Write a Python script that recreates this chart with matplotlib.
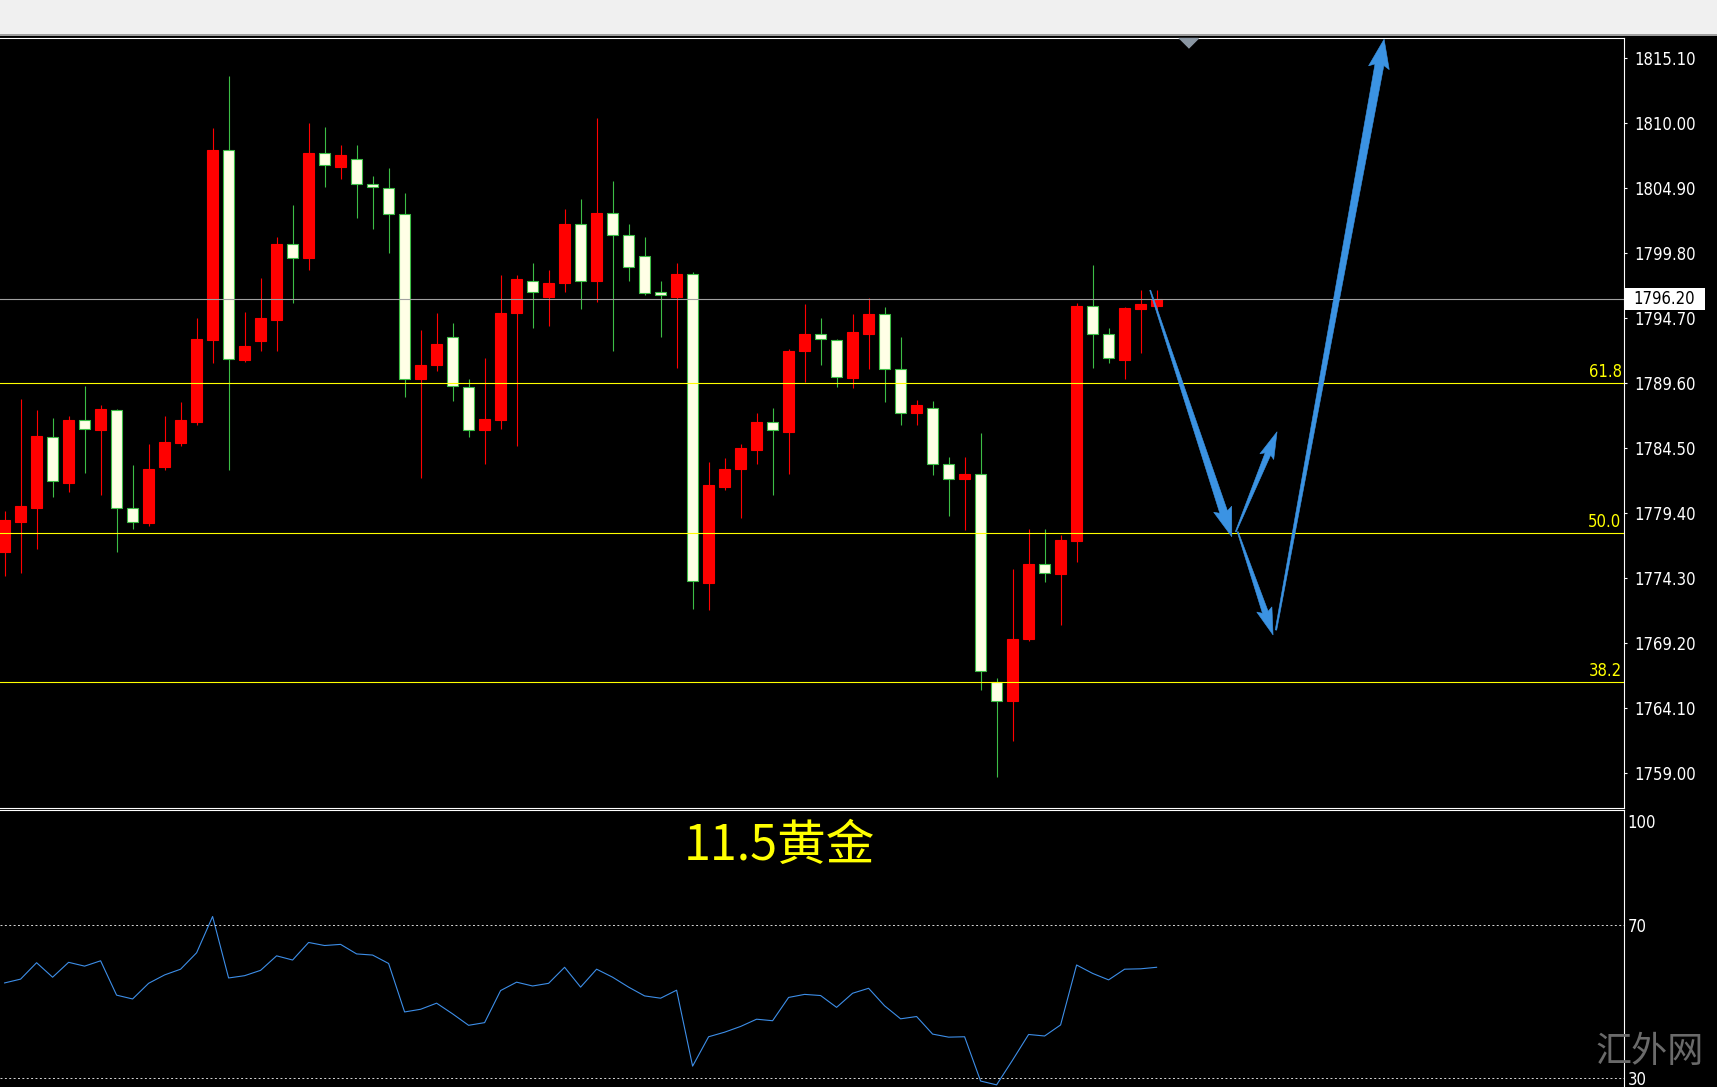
import numpy as np
import matplotlib
matplotlib.use('Agg')
import matplotlib.pyplot as plt
from matplotlib.patches import Rectangle, Polygon
from matplotlib import font_manager

# gold candles, oldest first (red = close above open, white = close below open)
opens = [1776.4, 1778.7, 1779.8, 1785.4, 1781.8, 1786.7, 1785.9, 1787.5, 1779.8, 1778.6,
         1783.0, 1784.9, 1786.6, 1793.0, 1807.9, 1791.4, 1792.9, 1794.6, 1800.5, 1799.4,
         1807.7, 1806.6, 1807.2, 1805.2, 1804.9, 1802.9, 1789.9, 1791.0, 1793.2, 1789.3,
         1785.9, 1786.7, 1795.1, 1797.6, 1796.4, 1797.5, 1802.1, 1797.6, 1803.0, 1801.2,
         1799.6, 1796.8, 1796.4, 1798.2, 1773.9, 1781.5, 1782.9, 1784.4, 1786.6, 1785.8,
         1792.1, 1793.5, 1793.0, 1790.0, 1793.5, 1795.0, 1790.7, 1787.3, 1787.7, 1783.3,
         1782.1, 1782.5, 1766.2, 1764.7, 1769.5, 1775.4, 1774.6, 1777.2, 1795.7, 1793.5,
         1791.4, 1795.4, 1795.7]
highs = [1779.6, 1788.4, 1787.5, 1786.9, 1787.0, 1789.4, 1787.9, 1787.6, 1783.2, 1784.8,
         1787.0, 1788.1, 1794.7, 1809.6, 1813.7, 1795.2, 1797.9, 1801.1, 1803.6, 1810.0,
         1809.7, 1808.3, 1808.3, 1805.9, 1806.5, 1804.5, 1793.8, 1795.1, 1794.3, 1789.9,
         1791.6, 1798.1, 1798.1, 1799.0, 1798.5, 1803.3, 1804.1, 1810.4, 1805.5, 1802.1,
         1801.1, 1797.6, 1799.0, 1798.3, 1783.4, 1783.7, 1784.8, 1787.3, 1787.7, 1792.3,
         1795.8, 1794.7, 1793.1, 1795.0, 1796.3, 1795.6, 1793.2, 1788.3, 1788.2, 1783.8,
         1783.8, 1785.7, 1766.5, 1775.0, 1778.2, 1778.2, 1777.7, 1795.9, 1798.9, 1793.9,
         1795.6, 1796.9, 1796.9]
lows = [1774.5, 1774.7, 1776.6, 1780.7, 1781.1, 1782.6, 1780.8, 1776.4, 1778.2, 1778.4,
        1782.8, 1784.7, 1786.3, 1791.2, 1782.8, 1791.3, 1792.1, 1792.1, 1795.9, 1798.5,
        1805.0, 1805.6, 1802.6, 1801.7, 1799.8, 1788.5, 1782.2, 1790.6, 1788.2, 1785.4,
        1783.3, 1786.0, 1784.7, 1793.9, 1794.1, 1796.8, 1795.4, 1796.0, 1792.1, 1797.6,
        1796.5, 1793.2, 1790.8, 1771.9, 1771.8, 1781.2, 1779.0, 1783.3, 1780.8, 1782.5,
        1789.7, 1791.0, 1789.3, 1789.2, 1790.7, 1788.1, 1786.3, 1786.3, 1782.4, 1779.2,
        1778.1, 1765.5, 1758.7, 1761.5, 1769.4, 1774.0, 1770.6, 1775.6, 1790.8, 1791.2,
        1789.9, 1792.0, 1795.0]
closes = [1778.9, 1780.0, 1785.5, 1781.9, 1786.7, 1786.0, 1787.6, 1779.8, 1778.7, 1782.9,
          1785.0, 1786.7, 1793.1, 1807.9, 1791.5, 1792.5, 1794.7, 1800.5, 1799.4, 1807.7,
          1806.7, 1807.5, 1805.2, 1805.0, 1802.9, 1789.9, 1791.0, 1792.7, 1789.4, 1785.9,
          1786.8, 1795.1, 1797.8, 1796.8, 1797.5, 1802.1, 1797.6, 1803.0, 1801.2, 1798.7,
          1796.7, 1796.5, 1798.2, 1774.1, 1781.6, 1782.9, 1784.5, 1786.6, 1785.9, 1792.1,
          1793.5, 1793.1, 1790.1, 1793.6, 1795.0, 1790.7, 1787.3, 1787.9, 1783.3, 1782.1,
          1782.5, 1767.0, 1764.7, 1769.5, 1775.4, 1774.7, 1777.3, 1795.7, 1793.5, 1791.6,
          1795.5, 1795.8, 1796.2]
rsi = [54.9, 55.9, 60.2, 56.4, 60.3, 59.3, 60.7, 51.7, 50.7, 54.8,
       57.0, 58.5, 62.8, 72.3, 56.2, 56.8, 58.2, 62.0, 60.9, 65.5,
       64.7, 65.0, 62.5, 62.2, 60.0, 47.3, 48.0, 49.6, 46.8, 43.8,
       44.5, 52.9, 55.1, 54.1, 54.8, 59.0, 53.8, 58.5, 56.4, 53.8,
       51.5, 50.9, 53.0, 33.1, 40.8, 42.0, 43.5, 45.4, 45.0, 51.1,
       51.9, 51.6, 48.5, 52.2, 53.5, 48.9, 45.5, 46.1, 41.5, 40.7,
       40.8, 29.2, 28.2, 34.7, 41.4, 41.0, 43.9, 59.6, 57.4, 55.7,
       58.5, 58.6, 59.0]

price_ticks = [1815.10, 1810.00, 1804.90, 1799.80, 1794.70, 1789.60,
               1784.50, 1779.40, 1774.30, 1769.20, 1764.10, 1759.00]
last_price = 1796.20
fib_labels = ['61.8', '50.0', '38.2']
fib_prices = [1789.60, 1777.83, 1766.14]
rsi_levels = [70, 30]
title = '11.5黄金'
watermark = '汇外网'

# hand drawn forecast arrows, (bar index, price): start -> tip
arrow_starts = [(71.6, 1796.9), (76.95, 1777.95), (77.07, 1777.95), (79.46, 1770.24)]
arrow_tips = [(76.7, 1777.56), (79.53, 1785.8), (79.28, 1769.85), (86.22, 1816.6)]
arrow_sizes = [(1.0, 8, 19, 26), (1.0, 6, 15, 24), (1.0, 6, 16, 24), (1.5, 9, 21, 26)]

W, H = 1717, 1087
BLUE = '#3b93e3'

# condensed DejaVu if the system has it, plain DejaVu otherwise
stretch = 'normal'
for f in font_manager.fontManager.ttflist:
    if f.name == 'DejaVu Sans' and f.stretch == 'condensed':
        stretch = 'condensed'
lab = dict(family='DejaVu Sans', fontstretch=stretch, fontsize=12)


def fx(px):
    return px / W


def fy(py):
    return 1 - py / H


def tapered_arrow(ax, start, tip, w0, w1, head_w, head_len):
    """arrow drawn in pixels (thin tail, wide head), stored back in data coords"""
    p0 = ax.transData.transform(start)
    p1 = ax.transData.transform(tip)
    u = (p1 - p0) / np.hypot(*(p1 - p0))
    n = np.array([-u[1], u[0]])
    base = p1 - u * head_len
    pts = [p0 + n * w0 / 2, base + n * w1 / 2, base + n * head_w / 2 - u * 3, p1,
           base - n * head_w / 2 - u * 3, base - n * w1 / 2, p0 - n * w0 / 2]
    pts = ax.transData.inverted().transform(np.array(pts))
    ax.add_patch(Polygon(pts, closed=True, facecolor=BLUE, edgecolor=BLUE,
                         linewidth=0.4, zorder=6, clip_on=False))


fig = plt.figure(figsize=(W / 100, H / 100), dpi=100, facecolor='black')

# window strip above the chart
fig.patches.append(Rectangle((0, fy(33.5)), 1, 1 - fy(33.5), transform=fig.transFigure,
                             facecolor='#f0f0f0', edgecolor='none'))
fig.patches.append(Rectangle((0, fy(35.5)), 1, 2 / H, transform=fig.transFigure,
                             facecolor='#a0a0a0', edgecolor='none'))

ax = fig.add_axes([0, fy(807.7), fx(1623.5), fy(38.3) - fy(807.7)], facecolor='black')
ax2 = fig.add_axes([0, 0, fx(1623.5), fy(809.5)], facecolor='black')

n_bars = len(opens)
xlim = (-0.2875, -0.2875 + 1623.5 / 16.0)
for a in (ax, ax2):
    a.set_xlim(*xlim)
    a.set_xticks([])
    for side in ('top', 'right', 'bottom', 'left'):
        a.spines[side].set_color('white')
        a.spines[side].set_linewidth(0.8)
    a.spines['left'].set_visible(False)
ax2.spines['bottom'].set_visible(False)
ax.set_ylim(1756.30, 1816.67)
ax2.set_ylim(27.64, 100.33)

# candles
idx = np.arange(n_bars)
o, h, l, c = map(np.array, (opens, highs, lows, closes))
up = c >= o
for mask, face, edge in ((up, '#ff0000', '#ff0000'), (~up, '#ffffe6', '#3cbd46')):
    ax.vlines(idx[mask], l[mask], h[mask], color=edge, linewidth=0.8, zorder=2)
    ax.bar(idx[mask], np.maximum(np.abs(c - o)[mask], 0.1), width=0.64,
           bottom=np.minimum(o, c)[mask], color=face, edgecolor=edge,
           linewidth=0.8, zorder=3)

# price line and fibonacci levels
ax.axhline(last_price, color='#a0a0a0', linewidth=0.8, zorder=4)
for name, p in zip(fib_labels, fib_prices):
    ax.axhline(p, color='#ffff00', linewidth=0.8, zorder=4)
    ax.text(0.9988, p + 0.15, name, transform=ax.get_yaxis_transform(), ha='right',
            va='bottom', color='#ffff00', **lab)

# price scale
ax.yaxis.tick_right()
ax.set_yticks(price_ticks)
ax.set_yticklabels(['%.2f' % p for p in price_ticks], **lab)
ax.tick_params(axis='y', colors='white', length=2.5, width=0.8, pad=5, labelcolor='white')
ax.add_patch(Rectangle((1.0009, last_price - 0.86), 0.0493, 1.72,
                       transform=ax.get_yaxis_transform(), facecolor='white',
                       edgecolor='none', clip_on=False, zorder=5))
ax.text(1.0058, last_price, '%.2f' % last_price, transform=ax.get_yaxis_transform(),
        ha='left', va='center', color='black', zorder=6, **lab)

# chart shift marker
ax.plot([0.732], [1.0], marker=[(-1, 0), (1, 0), (0, -1)], ms=14, color='#8a96a2',
        transform=ax.transAxes, clip_on=False, zorder=7)

for s, t, (w0, w1, hw, hl) in zip(arrow_starts, arrow_tips, arrow_sizes):
    tapered_arrow(ax, s, t, w0, w1, hw, hl)

# RSI panel
ax2.plot(idx, rsi, color='#3d8ee8', linewidth=0.8)
for lv in rsi_levels:
    ax2.axhline(lv, color='#d8d8d8', linewidth=0.7, dashes=(2, 2.5))
ax2.yaxis.tick_right()
ax2.set_yticks(rsi_levels)
ax2.set_yticklabels([str(v) for v in rsi_levels], **lab)
ax2.tick_params(axis='y', colors='white', length=0, pad=3, labelcolor='white')
ax2.annotate('100', xy=(1, 100.33), xycoords=('axes fraction', 'data'), xytext=(4, -4),
             textcoords='offset pixels', ha='left', va='top', color='white',
             annotation_clip=False, **lab)

fig.text(fx(684), fy(846), title, ha='left', va='center', fontsize=35, color='#ffff00',
         family=['Noto Sans CJK SC', 'DejaVu Sans'])
fig.text(fx(1650), fy(1052), watermark, ha='center', va='center', fontsize=26,
         color='#6a6a6a', family=['Noto Sans CJK SC', 'DejaVu Sans'], weight='light')

fig.savefig('out.png', dpi=100, facecolor='black')
